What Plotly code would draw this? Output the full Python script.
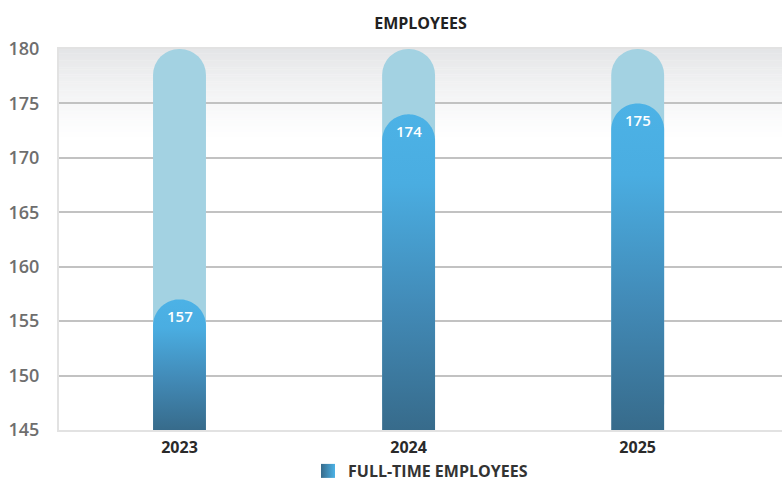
import numpy as np
import plotly.graph_objects as go

# ---- data ----
years = ["2023", "2024", "2025"]
full_time = [157, 174, 175]
y_ticks = [145, 150, 155, 160, 165, 170, 175, 180]

# ---- geometry / styling ----
W, H = 782, 484
ML, MR, MT, MB = 59, 0, 49, 54
Y_MIN, Y_MAX = 145, 180
X_RANGE = [-0.526, 2.63]
BAR_W = 0.231  # bar width in x units

PW = W - ML - MR
PH = H - MT - MB
px_per_x = PW / (X_RANGE[1] - X_RANGE[0])
px_per_y = PH / (Y_MAX - Y_MIN)

half_w = BAR_W / 2
cap_ry = half_w * px_per_x / px_per_y  # round cap radius expressed in y units

FONT = "Open Sans"
xs = list(range(len(years)))

fig = go.Figure()

# soft grey shading at the top of the plotting area (drawn under the grid)
shade_top, shade_bottom = Y_MAX, 171.5
n_strips = 40
top_rgb = np.array([228, 229, 231])
white = np.array([255, 255, 255])
edges = np.linspace(shade_bottom, shade_top, n_strips + 1)
for i in range(n_strips):
    t = (i + 0.5) / n_strips
    c = white + (top_rgb - white) * t ** 1.3
    fig.add_shape(type="rect", xref="paper", yref="y", x0=0, x1=1,
                  y0=edges[i], y1=edges[i + 1] + 0.02, layer="below",
                  line_width=0, fillcolor="rgb(%d,%d,%d)" % tuple(c.round()))

# light-blue capsule tracks reaching the axis maximum
fig.add_trace(go.Bar(
    x=xs, y=[Y_MAX - Y_MIN] * len(xs), base=Y_MIN,
    width=BAR_W, marker=dict(color="#a3d2e2", cornerradius="50%", line_width=0),
    hoverinfo="skip", showlegend=False,
))

# gradient capsules for the full-time employee counts
scale = [[0.0, "#376b8b"], [0.4, "#428bb8"], [0.78, "#4aade1"], [1.0, "#4cb2e6"]]
theta = np.linspace(np.pi, 0, 60)
for xc, v in zip(xs, full_time):
    cy = v - cap_ry
    px = [xc - half_w, xc - half_w] + list(xc + half_w * np.cos(theta)) + [xc + half_w, xc - half_w]
    py = [Y_MIN, cy] + list(cy + cap_ry * np.sin(theta)) + [Y_MIN, Y_MIN]
    fig.add_trace(go.Scatter(
        x=px, y=py, mode="none", fill="toself",
        fillgradient=dict(type="vertical", colorscale=scale, start=Y_MIN, stop=v),
        hoverinfo="skip", showlegend=False,
    ))
    fig.add_annotation(
        x=xc, y=v, yshift=-17, text=str(v), showarrow=False,
        font=dict(family=FONT, size=15, color="white", weight=600),
        yanchor="middle",
    )

# legend key
fig.add_trace(go.Scatter(
    x=[None], y=[None], mode="markers", name="FULL-TIME EMPLOYEES",
    marker=dict(symbol="square", size=14, color="#376b8b",
                gradient=dict(type="horizontal", color="#4cb2e6")),
))

fig.update_layout(
    width=W, height=H,
    margin=dict(l=ML, r=MR, t=MT, b=MB, autoexpand=False),
    paper_bgcolor="white", plot_bgcolor="white",
    barmode="overlay",
    title=dict(text="EMPLOYEES", x=(ML + PW / 2) / W, xanchor="center",
               y=1 - 23 / H, yanchor="middle",
               font=dict(family=FONT, size=16, color="#222222", weight=700)),
    showlegend=True,
    legend=dict(orientation="h", x=0.5, xanchor="center",
                y=-(471 - (MT + PH)) / PH, yanchor="middle",
                itemwidth=30, borderwidth=0, bgcolor="rgba(0,0,0,0)",
                font=dict(family=FONT, size=16, color="#333333", weight=700)),
    xaxis=dict(range=X_RANGE, tickvals=xs, ticktext=years, showgrid=False,
               zeroline=False, showline=True, linecolor="#e2e2e2", linewidth=2,
               mirror=True, ticks="", ticklabelstandoff=2,
               tickfont=dict(family=FONT, size=16, color="#2a2a2a", weight=700)),
    yaxis=dict(range=[Y_MIN, Y_MAX], tickvals=y_ticks, showgrid=True,
               gridcolor="#c2c2c2", gridwidth=1.5, zeroline=False,
               showline=True, linecolor="#e2e2e2", linewidth=2, ticks="",
               ticklabelstandoff=14,
               tickfont=dict(family=FONT, size=18, color="#6e6e6e", weight=600)),
)

fig.write_html("out.html")
